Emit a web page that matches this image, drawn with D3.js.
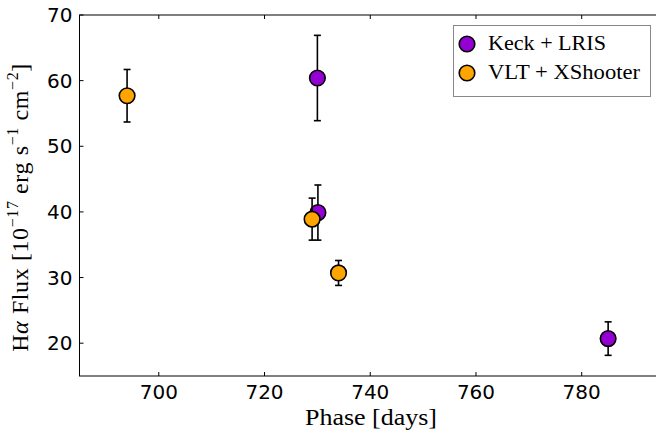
<!DOCTYPE html>
<html>
<head>
<meta charset="utf-8">
<script src="https://cdn.jsdelivr.net/npm/d3@7/dist/d3.min.js"></script>
<style>
  html, body { margin: 0; padding: 0; background: #fff; overflow: hidden; }
  svg { display: block; }
</style>
</head>
<body>
<svg id="chart" width="656" height="433"></svg>
<script>
// ---- data ----
const keckPhase = [730.0, 730.1, 785.0];
const keckFlux  = [60.4, 39.9, 20.7];
const keckErr   = [6.5, 4.2, 2.55];

const vltPhase = [694.0, 729.0, 734.0];
const vltFlux  = [57.7, 38.9, 30.7];
const vltErr   = [4.0, 3.2, 1.9];

const xTicks = [700, 720, 740, 760, 780];
const yTicks = [20, 30, 40, 50, 60, 70];
const seriesNames = ["Keck + LRIS", "VLT + XShooter"];
const seriesColors = ["#9400D3", "#FFA500"];

// ---- layout ----
const svg = d3.select("#chart");
const L = 79.5, R = 661, T = 15, B = 376;
const x = d3.scaleLinear().domain([685, 795]).range([L, R]);
const y = d3.scaleLinear().domain([15, 70]).range([B, T]);

const tickFont = "'DejaVu Sans', 'Bitstream Vera Sans', sans-serif";
const serif = "'Liberation Serif', 'DejaVu Serif', serif";

// frame
svg.append("rect").attr("x", L).attr("y", T).attr("width", R - L).attr("height", B - T)
  .attr("fill", "none").attr("stroke", "#000").attr("stroke-width", 1);

// ticks (inward)
const tl = 4;
const tg = svg.append("g").attr("stroke", "#000").attr("stroke-width", 1);
xTicks.forEach(v => {
  tg.append("line").attr("x1", x(v)).attr("x2", x(v)).attr("y1", B).attr("y2", B - tl);
  tg.append("line").attr("x1", x(v)).attr("x2", x(v)).attr("y1", T).attr("y2", T + tl);
});
yTicks.forEach(v => {
  tg.append("line").attr("x1", L).attr("x2", L + tl).attr("y1", y(v)).attr("y2", y(v));
  tg.append("line").attr("x1", R).attr("x2", R - tl).attr("y1", y(v)).attr("y2", y(v));
});

// tick labels
svg.append("g").selectAll("text").data(xTicks).join("text")
  .attr("x", d => x(d)).attr("y", B + 23)
  .attr("text-anchor", "middle").attr("font-family", tickFont).attr("font-size", 20)
  .attr("fill", "#000").text(d => d);
svg.append("g").selectAll("text").data(yTicks).join("text")
  .attr("x", L - 7).attr("y", d => y(d) + 7)
  .attr("text-anchor", "end").attr("font-family", tickFont).attr("font-size", 20)
  .attr("fill", "#000").text(d => d);

// axis labels
svg.append("text").attr("x", 371).attr("y", 425)
  .attr("text-anchor", "middle").attr("font-family", serif).attr("font-size", 24)
  .attr("textLength", 132).attr("lengthAdjust", "spacingAndGlyphs")
  .attr("fill", "#000").text("Phase [days]");

const yl = svg.append("text")
  .attr("transform", `translate(28, ${(T + B) / 2 + 12}) rotate(-90)`)
  .attr("text-anchor", "middle").attr("font-family", serif).attr("font-size", 24)
  .attr("letter-spacing", 0.6)
  .attr("fill", "#000");
yl.append("tspan").text("H");
yl.append("tspan").attr("font-style", "italic").text("α");
yl.append("tspan").text(" Flux [10");
yl.append("tspan").attr("font-size", 16).attr("dy", -10).text("−17");
yl.append("tspan").attr("dy", 10).text(" erg s");
yl.append("tspan").attr("font-size", 16).attr("dy", -10).text("−1");
yl.append("tspan").attr("dy", 10).text(" cm");
yl.append("tspan").attr("font-size", 16).attr("dy", -10).text("−2");
yl.append("tspan").attr("dy", 10).text("]");

// series
const series = [
  { px: keckPhase, fy: keckFlux, er: keckErr, color: seriesColors[0] },
  { px: vltPhase, fy: vltFlux, er: vltErr, color: seriesColors[1] }
];
const plot = svg.append("g");
const cap = 3.5;
series.forEach(s => {
  const pts = s.px.map((p, i) => ({ p, f: s.fy[i], e: s.er[i] }));
  const eg = plot.append("g").attr("stroke", "#000").attr("stroke-width", 1.6);
  pts.forEach(d => {
    eg.append("line").attr("x1", x(d.p)).attr("x2", x(d.p)).attr("y1", y(d.f - d.e)).attr("y2", y(d.f + d.e));
    eg.append("line").attr("x1", x(d.p) - cap).attr("x2", x(d.p) + cap).attr("y1", y(d.f - d.e)).attr("y2", y(d.f - d.e));
    eg.append("line").attr("x1", x(d.p) - cap).attr("x2", x(d.p) + cap).attr("y1", y(d.f + d.e)).attr("y2", y(d.f + d.e));
  });
  plot.append("g").selectAll("circle").data(pts).join("circle")
    .attr("cx", d => x(d.p)).attr("cy", d => y(d.f)).attr("r", 7.8)
    .attr("fill", s.color).attr("stroke", "#000").attr("stroke-width", 1.6);
});

// legend
const legendLen = [118, 152];
const lg = svg.append("g");
lg.append("rect").attr("x", 453.5).attr("y", 25.5).attr("width", 197).attr("height", 71)
  .attr("fill", "#fff").attr("stroke", "#888").attr("stroke-width", 1);
seriesNames.forEach((n, i) => {
  const cy = 44 + i * 29;
  lg.append("circle").attr("cx", 467).attr("cy", cy).attr("r", 7.8)
    .attr("fill", seriesColors[i]).attr("stroke", "#000").attr("stroke-width", 1.6);
  lg.append("text").attr("x", 488).attr("y", cy + 6)
    .attr("font-family", serif).attr("font-size", 20)
    .attr("textLength", legendLen[i]).attr("lengthAdjust", "spacingAndGlyphs")
    .attr("fill", "#000").text(n);
});
</script>
</body>
</html>
